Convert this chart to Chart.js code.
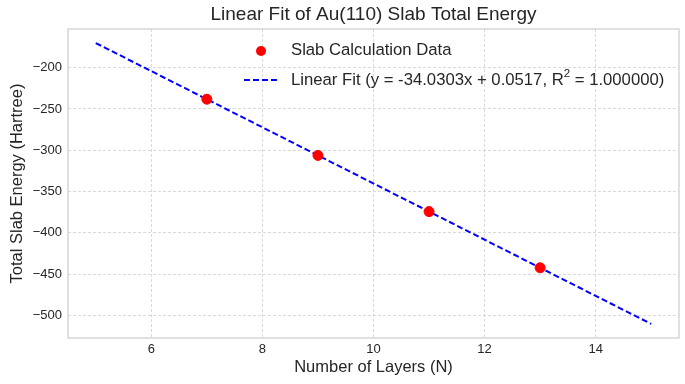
<!DOCTYPE html>
<html>
<head>
<meta charset="utf-8">
<script src="https://cdn.jsdelivr.net/npm/chart.js@4.4.1/dist/chart.umd.min.js"></script>
<style>
  html, body { margin: 0; padding: 0; background: #fff; }
  #wrap { width: 685px; height: 384px; }
</style>
</head>
<body>
<div id="wrap"><canvas id="fit-chart"></canvas></div>
<script>
// slab calculations
const layers = [7, 9, 11, 13];
const energies = [-238.16, -306.22, -374.28, -442.34];
// fitted line end points
const fitLayers = [5, 15];
const fitEnergies = [-170.10, -510.40];
const xTicks = [6, 8, 10, 12, 14];
const yTicks = [-500, -450, -400, -350, -300, -250, -200];

const FONT = '"Liberation Sans", Arial, sans-serif';
const TEXT = '#262626';

const frameAndLegend = {
    id: 'frameAndLegend',
    afterDraw(chart) {
        const ctx = chart.ctx, a = chart.chartArea;
        ctx.save();
        // full frame
        ctx.strokeStyle = '#cccccc';
        ctx.lineWidth = 1.2;
        ctx.strokeRect(a.left, a.top, a.right - a.left, a.bottom - a.top);

        // title
        ctx.fillStyle = TEXT;
        ctx.font = '19px ' + FONT;
        ctx.textAlign = 'center';
        ctx.textBaseline = 'middle';
        ctx.fillText('Linear Fit of Au(110) Slab Total Energy', (a.left + a.right) / 2, 15);

        // legend
        ctx.font = '16.7px ' + FONT;
        ctx.textAlign = 'left';
        ctx.fillStyle = 'red';
        ctx.beginPath();
        ctx.arc(261, 51, 5, 0, Math.PI * 2);
        ctx.fill();
        ctx.fillStyle = TEXT;
        ctx.fillText('Slab Calculation Data', 291, 50);

        ctx.strokeStyle = 'blue';
        ctx.lineWidth = 2;
        ctx.setLineDash([6, 3]);
        ctx.beginPath();
        ctx.moveTo(244, 80);
        ctx.lineTo(278, 80);
        ctx.stroke();
        ctx.setLineDash([]);

        let x = 291;
        const s1 = 'Linear Fit (y = -34.0303x + 0.0517, R';
        ctx.fillText(s1, x, 80);
        x += ctx.measureText(s1).width;
        ctx.font = '11.5px ' + FONT;
        ctx.fillText('2', x, 74);
        x += ctx.measureText('2').width;
        ctx.font = '16.7px ' + FONT;
        ctx.fillText(' = 1.000000)', x, 80);
        ctx.restore();
    }
};

const minus = v => String(v).replace('-', '\u2212');

new Chart(document.getElementById('fit-chart'), {
    type: 'scatter',
    data: {
        datasets: [{
            label: 'Linear Fit',
            data: fitLayers.map((n, i) => ({x: n, y: fitEnergies[i]})),
            showLine: true,
            borderColor: 'blue',
            borderWidth: 2,
            borderDash: [6, 3],
            pointRadius: 0,
            order: 2
        }, {
            label: 'Slab Calculation Data',
            data: layers.map((n, i) => ({x: n, y: energies[i]})),
            backgroundColor: 'red',
            borderColor: 'red',
            pointRadius: 5,
            order: 1
        }]
    },
    options: {
        responsive: true,
        maintainAspectRatio: false,
        animation: false,
        layout: { padding: { top: 29, right: 5, left: 0, bottom: 0 } },
        plugins: { legend: { display: false }, tooltip: { enabled: false } },
        scales: {
            x: {
                type: 'linear',
                min: 4.5, max: 15.5,
                afterBuildTicks: s => { s.ticks = xTicks.map(v => ({value: v})); },
                afterFit: s => { s.height = 46; },
                grid: { color: '#d0d0d0', drawTicks: false, lineWidth: 0.8 },
                border: { display: false, dash: [3, 2] },
                ticks: { color: TEXT, font: { family: FONT, size: 13 }, padding: 4, callback: minus },
                title: { display: true, text: 'Number of Layers (N)', color: TEXT,
                         font: { family: FONT, size: 16.5 }, padding: { top: 0, bottom: 7 } }
            },
            y: {
                type: 'linear',
                min: -527.4, max: -153.1,
                afterBuildTicks: s => { s.ticks = yTicks.map(v => ({value: v})); },
                afterFit: s => { s.width = 68; },
                grid: { color: '#d0d0d0', drawTicks: false, lineWidth: 0.8 },
                border: { display: false, dash: [3, 2] },
                ticks: { color: TEXT, font: { family: FONT, size: 13 }, padding: 6, callback: minus },
                title: { display: true, text: 'Total Slab Energy (Hartree)', color: TEXT,
                         font: { family: FONT, size: 16.5 }, padding: { top: 7.5, bottom: 0 } }
            }
        }
    },
    plugins: [frameAndLegend]
});
</script>
</body>
</html>
